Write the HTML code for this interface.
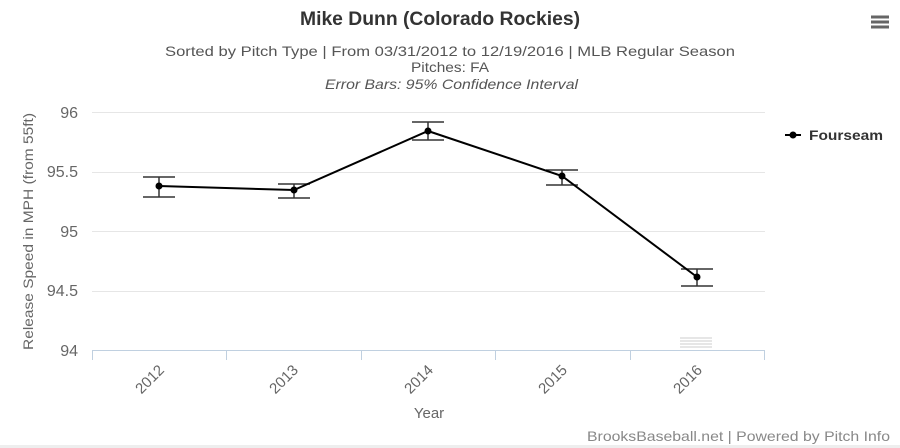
<!DOCTYPE html>
<html><head><style>
body{margin:0;background:#fff;}
svg{display:block;font-family:"Liberation Sans",sans-serif;}
</style></head><body>
<svg width="900" height="448" xmlns="http://www.w3.org/2000/svg">
<rect width="900" height="448" fill="#fff"/>
<text x="300" y="25" font-size="19" font-weight="bold" fill="#333" textLength="280" lengthAdjust="spacingAndGlyphs">Mike Dunn (Colorado Rockies)</text>
<text x="165" y="56" font-size="14" fill="#555" textLength="570" lengthAdjust="spacingAndGlyphs">Sorted by Pitch Type | From 03/31/2012 to 12/19/2016 | MLB Regular Season</text>
<text x="411" y="72" font-size="14" fill="#555" textLength="78" lengthAdjust="spacingAndGlyphs">Pitches: FA</text>
<text x="325" y="89" font-size="14" font-style="italic" fill="#555" textLength="253" lengthAdjust="spacingAndGlyphs">Error Bars: 95% Confidence Interval</text>
<g stroke="#666" stroke-width="3"><line x1="871" y1="17" x2="889" y2="17"/><line x1="871" y1="22" x2="889" y2="22"/><line x1="871" y1="27" x2="889" y2="27"/></g>
<g stroke="#e6e6e6" stroke-width="1">
<line x1="92" y1="112.5" x2="765" y2="112.5"/><line x1="92" y1="172.5" x2="765" y2="172.5"/><line x1="92" y1="231.5" x2="765" y2="231.5"/><line x1="92" y1="291.5" x2="765" y2="291.5"/>
</g>
<line x1="92" y1="350.5" x2="765" y2="350.5" stroke="#c0d0e0"/>
<g stroke="#c0d0e0"><line x1="92.5" y1="350" x2="92.5" y2="360"/><line x1="226.5" y1="350" x2="226.5" y2="360"/><line x1="361.5" y1="350" x2="361.5" y2="360"/><line x1="495.5" y1="350" x2="495.5" y2="360"/><line x1="630.5" y1="350" x2="630.5" y2="360"/><line x1="764.5" y1="350" x2="764.5" y2="360"/></g>
<g stroke="#ccc"><line x1="680" y1="338" x2="712" y2="338"/><line x1="680" y1="341" x2="712" y2="341"/><line x1="680" y1="344" x2="712" y2="344"/><line x1="680" y1="347" x2="712" y2="347"/></g>
<g font-size="16" fill="#666" text-anchor="end">
<text x="78" y="118">96</text><text x="78" y="177">95.5</text><text x="78" y="237">95</text><text x="78" y="296">94.5</text><text x="78" y="356">94</text>
</g>
<text transform="translate(33,350) rotate(-90)" font-size="14" fill="#666" textLength="237" lengthAdjust="spacingAndGlyphs">Release Speed in MPH (from 55ft)</text>
<g font-size="15" fill="#666" text-anchor="end">
<text transform="translate(165,371) rotate(-45)">2012</text>
<text transform="translate(299,371) rotate(-45)">2013</text>
<text transform="translate(434,371) rotate(-45)">2014</text>
<text transform="translate(568,371) rotate(-45)">2015</text>
<text transform="translate(703,371) rotate(-45)">2016</text>
</g>
<text x="429" y="418" text-anchor="middle" font-size="15" fill="#666">Year</text>
<g stroke="#333" stroke-width="1.5">
<line x1="143" y1="177" x2="175" y2="177"/><line x1="143" y1="197" x2="175" y2="197"/><line x1="159" y1="177" x2="159" y2="197"/>
<line x1="278" y1="184" x2="310" y2="184"/><line x1="278" y1="198" x2="310" y2="198"/><line x1="294" y1="184" x2="294" y2="198"/>
<line x1="412" y1="122" x2="444" y2="122"/><line x1="412" y1="140" x2="444" y2="140"/><line x1="428" y1="122" x2="428" y2="140"/>
<line x1="546" y1="170" x2="578" y2="170"/><line x1="546" y1="185" x2="578" y2="185"/><line x1="562" y1="170" x2="562" y2="185"/>
<line x1="681" y1="269" x2="713" y2="269"/><line x1="681" y1="286" x2="713" y2="286"/><line x1="697" y1="269" x2="697" y2="286"/>
</g>
<polyline points="159,186 294,190 428,131 562,176 697,277" fill="none" stroke="#000" stroke-width="2"/>
<g fill="#000"><circle cx="159" cy="186" r="3.5"/><circle cx="294" cy="190" r="3.5"/><circle cx="428" cy="131" r="3.5"/><circle cx="562" cy="176" r="3.5"/><circle cx="697" cy="277" r="3.5"/></g>
<line x1="785" y1="135" x2="801" y2="135" stroke="#000" stroke-width="2"/><circle cx="793" cy="135" r="3.5"/>
<text x="809" y="140" font-size="14" font-weight="bold" fill="#333" textLength="74" lengthAdjust="spacingAndGlyphs">Fourseam</text>
<text x="587" y="441" font-size="14" fill="#888" textLength="303" lengthAdjust="spacingAndGlyphs">BrooksBaseball.net | Powered by Pitch Info</text>
<rect x="0" y="445" width="900" height="3" fill="#eee"/>
</svg>
</body></html>
